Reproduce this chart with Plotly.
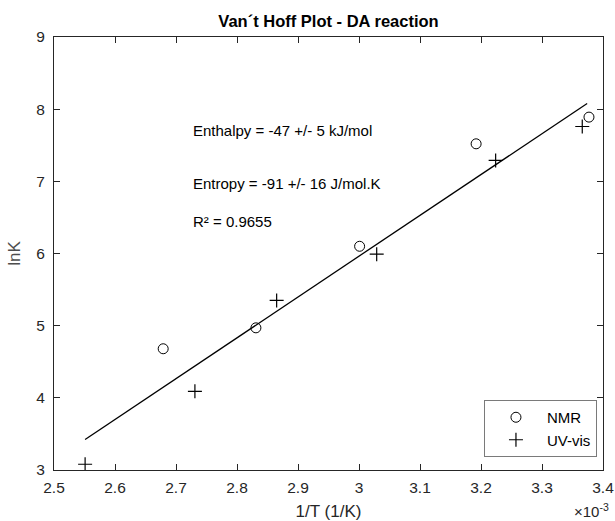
import plotly.graph_objects as go

# data (x in units of 1e-3 1/K)
nmr_x = [2.679, 2.831, 3.001, 3.192, 3.377]
nmr_y = [4.68, 4.97, 6.10, 7.52, 7.89]
uv_x = [2.551, 2.731, 2.865, 3.029, 3.224, 3.366]
uv_y = [3.08, 4.09, 5.35, 5.99, 7.29, 7.76]
fit_x = [2.551, 3.374]
fit_y = [3.423, 8.079]

x_ticks = [2.5, 2.6, 2.7, 2.8, 2.9, 3.0, 3.1, 3.2, 3.3, 3.4]
x_labels = ["2.5", "2.6", "2.7", "2.8", "2.9", "3", "3.1", "3.2", "3.3", "3.4"]
y_ticks = [3, 4, 5, 6, 7, 8, 9]

notes = ["Enthalpy = -47 +/- 5 kJ/mol", "Entropy = -91 +/- 16 J/mol.K", "R² = 0.9655"]
note_x = 2.725
note_y = [7.70, 6.97, 6.45]

FONT = "Liberation Sans, Arial, sans-serif"
AX = "#262626"

fig = go.Figure()
fig.add_trace(go.Scatter(x=fit_x, y=fit_y, mode="lines", line=dict(color="black", width=1.3),
                         showlegend=False, hoverinfo="skip"))
fig.add_trace(go.Scatter(x=nmr_x, y=nmr_y, mode="markers", name="NMR",
                         marker=dict(symbol="circle-open", size=10, color="black", line=dict(width=1))))
fig.add_trace(go.Scatter(x=uv_x, y=uv_y, mode="markers", name="UV-vis",
                         marker=dict(symbol="cross-thin-open", size=10, color="black", line=dict(width=1.2))))

for t, yy in zip(notes, note_y):
    fig.add_annotation(x=note_x, y=yy, xref="x", yref="y", text=t, showarrow=False,
                       xanchor="left", yanchor="middle", font=dict(family=FONT, size=15, color="black"))

fig.add_annotation(x=1.0, y=0, xref="paper", yref="paper", yshift=-52, xshift=8,
                   text="×10<sup>-3</sup>", showarrow=False, xanchor="right", yanchor="bottom",
                   font=dict(family=FONT, size=15, color=AX))

axis_common = dict(showline=True, linecolor=AX, linewidth=1, mirror="ticks", ticks="inside",
                   ticklen=6, tickcolor=AX, tickwidth=1, showgrid=False, zeroline=False,
                   automargin=False, tickfont=dict(family=FONT, size=15.5, color=AX))

fig.update_layout(
    width=615, height=521,
    margin=dict(l=54, r=12, t=37, b=51, autoexpand=False),
    paper_bgcolor="white", plot_bgcolor="white",
    title=dict(text="<b>Van´t Hoff Plot - DA reaction</b>", x=(54 + 603) / 2 / 615, xanchor="center",
               y=1 - 21.5 / 521, yanchor="middle", automargin=False,
               font=dict(family=FONT, size=16.5, color="black")),
    xaxis=dict(range=[2.5, 3.4], tickvals=x_ticks, ticktext=x_labels, ticklabelstandoff=3,
               title=dict(text="1/T (1/K)", font=dict(family=FONT, size=17, color=AX), standoff=10),
               **axis_common),
    yaxis=dict(range=[3, 9], tickvals=y_ticks, ticklabelstandoff=5,
               title=dict(text="lnK", font=dict(family=FONT, size=17, color="#4d4d4d"), standoff=11),
               **axis_common),
    legend=dict(x=0.989, y=0.03, xanchor="right", yanchor="bottom", bgcolor="white",
                bordercolor="#7a7a7a", borderwidth=1, font=dict(family=FONT, size=15, color="black"),
                tracegroupgap=0, itemwidth=52),
    showlegend=True,
)

fig.write_html("out.html")
